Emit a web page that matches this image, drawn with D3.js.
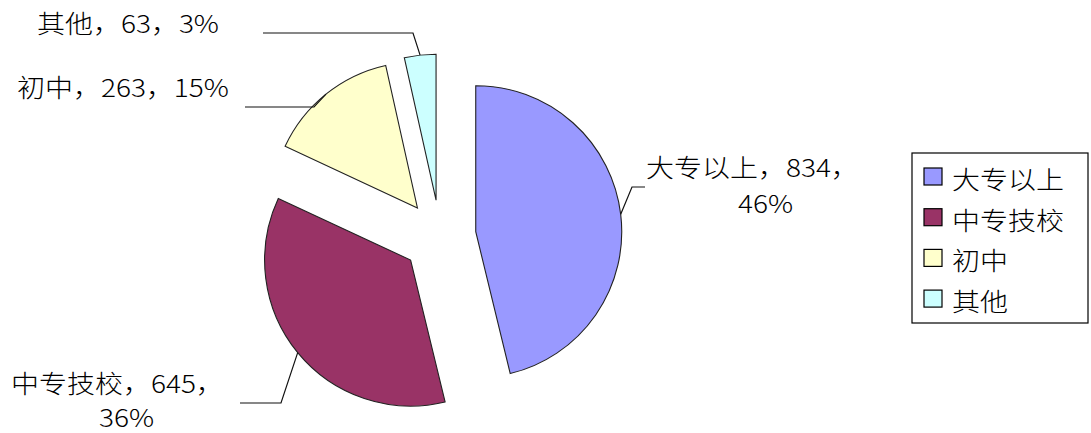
<!DOCTYPE html>
<html>
<head>
<meta charset="utf-8">
<script src="https://cdn.jsdelivr.net/npm/d3@7"></script>
<style>
  html, body { margin: 0; padding: 0; background: #fff; }
  svg { display: block; }
  text { font-family: "Noto Sans CJK SC", "Noto Sans", sans-serif; font-weight: 300; fill: #000; }
</style>
</head>
<body>
<svg id="chart" width="1091" height="433"></svg>
<script>
// ---- data ----
const categories = ["大专以上", "中专技校", "初中", "其他"];
const values = [834, 645, 263, 63];
const percentLabels = ["46%", "36%", "15%", "3%"];
const colors = ["#9999FF", "#993366", "#FFFFCC", "#CCFFFF"];

// ---- layout ----
const pieCenter = [440, 236];
const radius = 146;
const explode = [36, 38, 36, 36];
const fontSize = 25;
const xStretch = 1.12;

// data label layout: elbow / end of leader line, text lines (offsets relative to the label origin)
const labelLayout = [
  { elbow: [632, 187], end: [645, 187], x: 646, y: 166, lines: [
      { t: d => `${d.cat}，${d.val}，`, dx: 0, dy: 0 },
      { t: d => d.pct, dx: 92, dy: 36 } ] },
  { elbow: [281, 403], end: [240, 403], x: 11, y: 382, lines: [
      { t: d => `${d.cat}，${d.val}，`, dx: 0, dy: 0 },
      { t: d => d.pct, dx: 88, dy: 34 } ] },
  { elbow: [314, 107], end: [245, 107], x: 17, y: 86, lines: [
      { t: d => `${d.cat}，${d.val}，${d.pct}`, dx: 0, dy: 0 } ] },
  { elbow: [413, 33], end: [263, 33], x: 37, y: 22, lines: [
      { t: d => `${d.cat}，${d.val}，${d.pct}`, dx: 0, dy: 0 } ] }
];

const legendBox = { x: 912, y: 153, w: 176, h: 170 };
const legendRowY = 178, legendRowStep = 40.7;

const svg = d3.select("#chart");

const rows = categories.map((c, i) => ({ cat: c, val: values[i], pct: percentLabels[i], color: colors[i], i }));

const pie = d3.pie().sort(null).value(d => d.val).startAngle(0).endAngle(2 * Math.PI);
const arcs = pie(rows);
const arcGen = d3.arc().innerRadius(0).outerRadius(radius);

const g = svg.append("g").attr("transform", `translate(${pieCenter[0]},${pieCenter[1]})`);

arcs.forEach((a, i) => {
  const mid = (a.startAngle + a.endAngle) / 2;
  a.dx = explode[i] * Math.sin(mid);
  a.dy = -explode[i] * Math.cos(mid);
  a.mid = mid;
});

g.selectAll("path.slice")
  .data(arcs)
  .join("path")
  .attr("class", "slice")
  .attr("transform", d => `translate(${d.dx},${d.dy})`)
  .attr("d", arcGen)
  .attr("fill", d => d.data.color)
  .attr("stroke", "#222")
  .attr("stroke-width", 1.1)
  .attr("stroke-linejoin", "miter");

// leader lines + labels
arcs.forEach((a, i) => {
  const L = labelLayout[i];
  const px = pieCenter[0] + a.dx + radius * Math.sin(a.mid);
  const py = pieCenter[1] + a.dy - radius * Math.cos(a.mid);
  svg.append("path")
    .attr("d", d3.line()([[px, py], L.elbow, L.end]))
    .attr("fill", "none")
    .attr("stroke", "#111")
    .attr("stroke-width", 1.2);
  const txt = svg.append("text")
    .attr("transform", `translate(${L.x},${L.y}) scale(${xStretch},1)`)
    .attr("dominant-baseline", "central")
    .attr("font-size", fontSize);
  L.lines.forEach(ln => {
    txt.append("tspan")
      .attr("x", ln.dx / xStretch)
      .attr("y", ln.dy)
      .text(ln.t(a.data));
  });
});

// legend
svg.append("rect")
  .attr("x", legendBox.x).attr("y", legendBox.y)
  .attr("width", legendBox.w).attr("height", legendBox.h)
  .attr("fill", "#fff").attr("stroke", "#000").attr("stroke-width", 1.2);

const leg = svg.selectAll("g.leg").data(rows).join("g").attr("class", "leg")
  .attr("transform", (d, i) => `translate(${legendBox.x}, ${legendRowY + i * legendRowStep})`);

leg.append("rect")
  .attr("x", 12).attr("y", -10).attr("width", 18).attr("height", 17)
  .attr("fill", d => d.color).attr("stroke", "#000").attr("stroke-width", 1.2);

leg.append("text")
  .attr("transform", `translate(40,0) scale(${xStretch},1)`)
  .attr("dominant-baseline", "central")
  .attr("font-size", fontSize)
  .text(d => d.cat);
</script>
</body>
</html>
